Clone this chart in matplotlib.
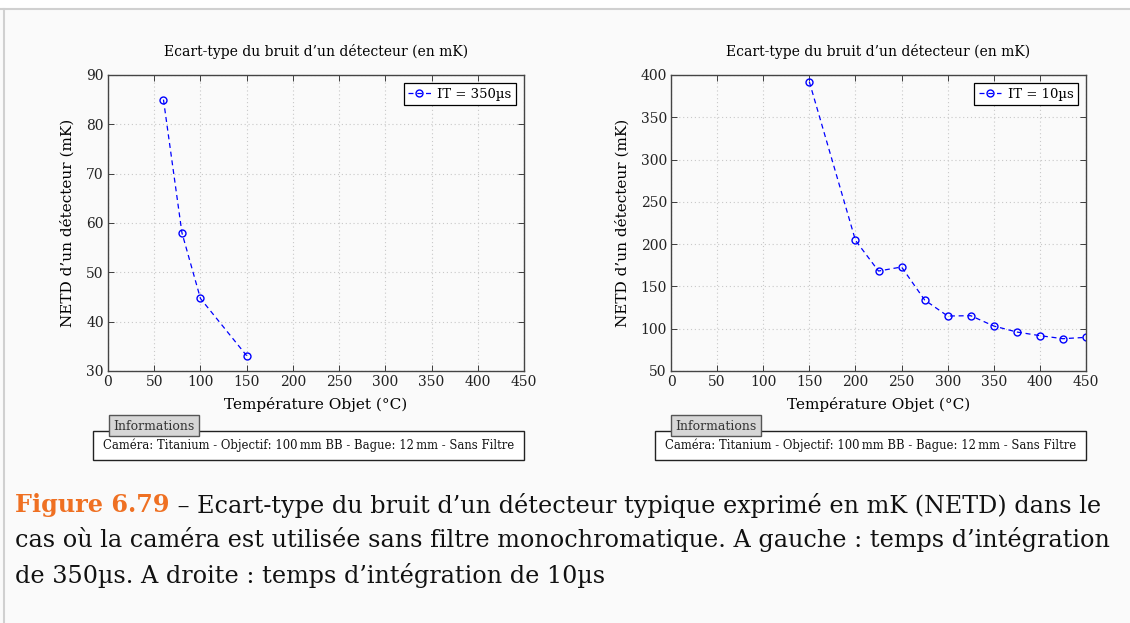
import matplotlib
matplotlib.use("Agg")
import matplotlib.pyplot as plt
from matplotlib.patches import Rectangle
from matplotlib.lines import Line2D

plt.rcParams['font.family'] = ['DejaVu Serif']
plt.rcParams['mathtext.fontset'] = 'dejavuserif'

# NETD measurements, integration time 350 us
temp_350 = [60, 80, 100, 150]
netd_350 = [85.0, 58.0, 44.7, 33.1]

# NETD measurements, integration time 10 us
temp_10 = [150, 200, 225, 250, 275, 300, 325, 350, 375, 400, 425, 450]
netd_10 = [392, 204.5, 168.2, 173, 134, 115, 115.4, 103.2, 96.1, 91.8, 88.2, 89.8]

title = "Ecart-type du bruit d\u2019un détecteur (en mK)"
ylabel = "NETD d\u2019un détecteur (mK)"
xlabel = "Température Objet (°C)"
info = "Caméra: Titanium - Objectif: 100\u2009mm BB - Bague: 12\u2009mm - Sans Filtre"
xticks = [0, 50, 100, 150, 200, 250, 300, 350, 400, 450]

W, H = 1130, 623
fig = plt.figure(figsize=(W / 100, H / 100), dpi=100)
fig.patch.set_facecolor('#fafafa')


def px(x0, y0, x1, y1):
    # pixel box (top-left origin) -> figure fraction rect
    return [x0 / W, 1 - y1 / H, (x1 - x0) / W, (y1 - y0) / H]


# page frame
fig.patches.append(Rectangle((0, 1 - 8 / H), 1, 8 / H, transform=fig.transFigure,
                             facecolor='white', edgecolor='none', zorder=0))
fig.add_artist(Line2D([0, 1], [1 - 8.5 / H] * 2, transform=fig.transFigure, color='#d0d0d0', lw=1.5))
fig.add_artist(Line2D([4 / W] * 2, [0, 1 - 8.5 / H], transform=fig.transFigure, color='#d0d0d0', lw=1.5))


def panel(rect, x, y, ylim, yticks, label, box_x):
    ax = fig.add_axes(px(*rect))
    ax.set_facecolor('#fafafa')
    ax.plot(x, y, color='blue', ls=(0, (4, 3)), lw=0.9, marker='o', ms=5,
            mfc='none', mec='blue', mew=1.0, label=label)
    ax.set_xlim(0, 450)
    ax.set_ylim(*ylim)
    ax.set_xticks(xticks)
    ax.set_yticks(yticks)
    ax.grid(True, color='#c8c8c8', ls=(0, (1, 2.5)), lw=0.8)
    ax.tick_params(direction='in', top=True, right=True, length=4, width=0.6,
                   labelsize=10, colors='#222222', pad=3)
    for s in ax.spines.values():
        s.set_color('#444444')
        s.set_linewidth(1.0)
    ax.set_title(title, fontsize=10, pad=14)
    ax.set_xlabel(xlabel, fontsize=11, labelpad=6)
    ax.set_ylabel(ylabel, fontsize=11, labelpad=8)
    leg = ax.legend(loc='upper right', fontsize=9.5, frameon=True, fancybox=False,
                    handlelength=1.7, borderpad=0.35, handletextpad=0.5,
                    borderaxespad=0.6)
    leg.get_frame().set_edgecolor('black')
    leg.get_frame().set_linewidth(0.9)
    leg.get_frame().set_facecolor('white')
    leg.get_frame().set_alpha(1)

    # information box under the axes
    bx0, bx1 = box_x
    fig.patches.append(Rectangle((bx0 / W, 1 - 460 / H), (bx1 - bx0) / W, 29 / H,
                                 transform=fig.transFigure, facecolor='white',
                                 edgecolor='#222222', lw=1.0))
    fig.text((bx0 + bx1) / 2 / W, 1 - 445.5 / H, info, fontsize=8.4,
             ha='center', va='center', color='#111111')
    tx0 = bx0 + 16
    fig.patches.append(Rectangle((tx0 / W, 1 - 436 / H), 90 / W, 21 / H,
                                 transform=fig.transFigure, facecolor='#d6d6d6',
                                 edgecolor='#555555', lw=1.0))
    fig.text((tx0 + 45) / W, 1 - 426 / H, "Informations", fontsize=9,
             ha='center', va='center', color='#333333')
    return ax


panel((108, 75, 524, 371), temp_350, netd_350, (30, 90), range(30, 91, 10),
      "IT = 350\u00b5s", (93, 524))
panel((671, 75, 1086, 371), temp_10, netd_10, (50, 400), range(50, 401, 50),
      "IT = 10\u00b5s", (655, 1086))

# caption
cap_size = 17.2
r = fig.canvas.get_renderer()
t = fig.text(15 / W, 1 - 505 / H, "Figure 6.79", fontsize=cap_size, color='#ef7022',
             fontweight='bold', va='center')
bb = t.get_window_extent(renderer=r)
fig.text(bb.x1 / W, 1 - 505 / H,
         " \u2013 Ecart-type du bruit d\u2019un détecteur typique exprimé en mK (NETD) dans le",
         fontsize=cap_size, va='center', color='#111111')
fig.text(15 / W, 1 - 540 / H,
         "cas où la caméra est utilisée sans filtre monochromatique. A gauche : temps d\u2019intégration",
         fontsize=cap_size, va='center', color='#111111')
fig.text(15 / W, 1 - 576 / H, "de 350\u00b5s. A droite : temps d\u2019intégration de 10\u00b5s",
         fontsize=cap_size, va='center', color='#111111')

fig.savefig("out.png", dpi=100, facecolor=fig.get_facecolor())
